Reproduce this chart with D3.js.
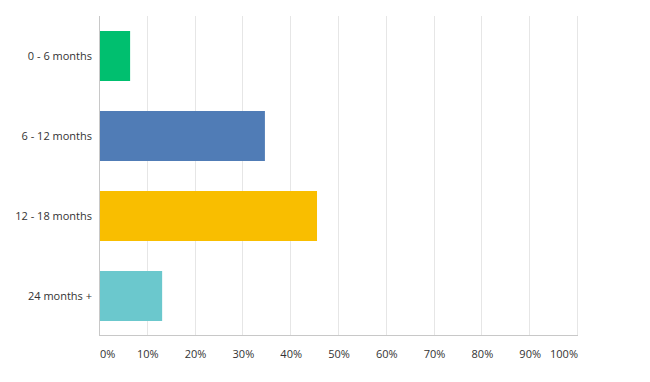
<!DOCTYPE html>
<html><head><meta charset="utf-8">
<script src="https://cdn.jsdelivr.net/npm/d3@7"></script>
<style>
html,body{margin:0;padding:0;background:#fff;}
svg text{font-family:"Open Sans",sans-serif;font-size:11px;fill:#333;}
</style></head>
<body><svg id="c" width="650" height="382"></svg>
<script>
const categories = ["0 - 6 months", "6 - 12 months", "12 - 18 months", "24 months +"];
const values = [6.3, 34.5, 45.4, 13.0];
const colors = ["#00BF6F", "#507CB6", "#F9BE00", "#6BC8CD"];
const ticks = [0,10,20,30,40,50,60,70,80,90,100];

const svg = d3.select("#c");
const x = d3.scaleLinear().domain([0,100]).range([100,578]);
const y = d3.scaleBand().domain(categories).range([16,336]).paddingInner(0.375).paddingOuter(0.1875);

// gridlines
svg.append("g").selectAll("line").data(ticks.slice(1)).join("line")
  .attr("x1", d=>Math.round(x(d))-0.5).attr("x2", d=>Math.round(x(d))-0.5)
  .attr("y1", 16).attr("y2", 336)
  .attr("stroke", "#e6e6e6").attr("stroke-width", 1);

// bars
svg.append("g").selectAll("rect").data(values).join("rect")
  .attr("x", x(0)).attr("y", (d,i)=>y(categories[i]))
  .attr("width", d=>x(d)-x(0)).attr("height", y.bandwidth())
  .attr("fill", (d,i)=>colors[i]);

// axes lines
svg.append("line").attr("x1",99.5).attr("x2",99.5).attr("y1",16).attr("y2",336)
  .attr("stroke","#c8c8c8");
svg.append("line").attr("x1",99.5).attr("x2",578).attr("y1",335.5).attr("y2",335.5)
  .attr("stroke","#c8c8c8");

// category labels
svg.append("g").selectAll("text").data(categories).join("text")
  .attr("x", 92).attr("y", d=>y(d)+y.bandwidth()/2).attr("dy","0.35em")
  .attr("text-anchor","end").text(d=>d);

// tick labels
svg.append("g").selectAll("text").data(ticks).join("text")
  .attr("x", d=>x(d)).attr("y", 354).attr("dy","0.35em")
  .attr("text-anchor", (d,i)=> i===0 ? "start" : (i===ticks.length-1 ? "end" : "middle"))
  .text(d=>d+"%");
</script></body></html>
